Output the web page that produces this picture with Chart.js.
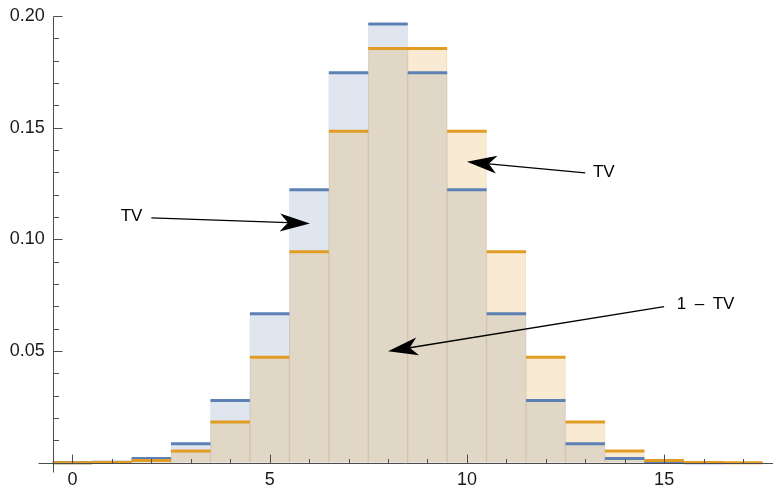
<!DOCTYPE html>
<html>
<head>
<meta charset="utf-8">
<script src="https://cdn.jsdelivr.net/npm/chart.js@4/dist/chart.umd.min.js"></script>
<style>
  body { margin: 0; background: #fff; }
</style>
</head>
<body>
<canvas id="myChart" width="775" height="490"></canvas>
<script>
// outcomes k
var ks = [0, 1, 2, 3, 4, 5, 6, 7, 8, 9, 10, 11, 12, 13, 14, 15, 16, 17];
// blue distribution (no value at k = 17)
var blueVals = [0.0000153, 0.000244, 0.00183, 0.00854, 0.0278, 0.0667, 0.1222, 0.1746, 0.1964,
                0.1746, 0.1222, 0.0667, 0.0278, 0.00854, 0.00183, 0.000244, 0.0000153, null];
// orange distribution
var orangeVals = [0.0000076, 0.00013, 0.00104, 0.00519, 0.0182, 0.0472, 0.0944, 0.1484, 0.1855,
                  0.1855, 0.1484, 0.0944, 0.0472, 0.0182, 0.00519, 0.00104, 0.00013, 0.0000076];
var xTicks = [0, 5, 10, 15];
var yTicks = [0.05, 0.10, 0.15, 0.20];

var FONT = '"Liberation Sans", Arial, sans-serif';
var AXIS = '#4d4d4d';

function barData(vals) {
    var out = [];
    ks.forEach(function (k, i) { if (vals[i] != null) out.push({x: k, y: vals[i]}); });
    return out;
}
// horizontal step for each outcome, broken between outcomes
function stepData(vals) {
    var out = [];
    ks.forEach(function (k, i) {
        if (vals[i] == null) return;
        out.push({x: k - 0.5, y: vals[i]}, {x: k + 0.5, y: vals[i]}, {x: k + 0.5, y: null});
    });
    return out;
}

// arrows, in data units
var notes = [
    {text: 'TV', at: [1.5, 0.1101], from: [2.0, 0.1096], to: [6.02, 0.1071]},
    {text: 'TV', at: [13.47, 0.1302], from: [13.0, 0.1298], to: [10.0, 0.1347]},
    {text: '1\u2002\u2013\u2002TV', at: [16.05, 0.0707], from: [15.0, 0.0699], to: [8.0, 0.0499]}
];

var axesPlugin = {
    id: 'axesPlugin',
    afterDatasetsDraw: function (chart) {
        var ctx = chart.ctx, xs = chart.scales.x, ys = chart.scales.y;
        var x0 = Math.round(xs.getPixelForValue(-0.5)) + 0.5;
        var y0 = Math.round(ys.getPixelForValue(0)) + 0.5;
        ctx.save();
        ctx.strokeStyle = AXIS;
        ctx.lineWidth = 1;
        ctx.beginPath();
        ctx.moveTo(x0 - 15, y0); ctx.lineTo(xs.right, y0);
        ctx.moveTo(x0, Math.round(ys.getPixelForValue(0.2)) + 0.5); ctx.lineTo(x0, y0 + 9);
        ks.forEach(function (k) {
            var px = Math.round(xs.getPixelForValue(k)) + 0.5;
            ctx.moveTo(px, y0); ctx.lineTo(px, y0 - (k % 5 === 0 ? 9 : 4.5));
        });
        for (var i = 1; i <= 20; i++) {
            var py = Math.round(ys.getPixelForValue(i * 0.01)) + 0.5;
            ctx.moveTo(x0, py); ctx.lineTo(x0 + (i % 5 === 0 ? 9 : 5.5), py);
        }
        ctx.stroke();
        ctx.restore();
    },
    afterDraw: function (chart) {
        var ctx = chart.ctx, xs = chart.scales.x, ys = chart.scales.y;
        ctx.save();
        notes.forEach(function (n) {
            var ax = xs.getPixelForValue(n.from[0]), ay = ys.getPixelForValue(n.from[1]);
            var bx = xs.getPixelForValue(n.to[0]), by = ys.getPixelForValue(n.to[1]);
            var ang = Math.atan2(by - ay, bx - ax);
            var L = 30, W = 9, N = 22;
            var c = Math.cos(ang), s = Math.sin(ang);
            ctx.strokeStyle = '#000';
            ctx.lineWidth = 1.3;
            ctx.beginPath();
            ctx.moveTo(ax, ay);
            ctx.lineTo(bx - c * N, by - s * N);
            ctx.stroke();
            // notched arrowhead
            ctx.fillStyle = '#000';
            ctx.beginPath();
            ctx.moveTo(bx, by);
            ctx.lineTo(bx - c * L - s * W, by - s * L + c * W);
            ctx.lineTo(bx - c * N, by - s * N);
            ctx.lineTo(bx - c * L + s * W, by - s * L - c * W);
            ctx.closePath();
            ctx.fill();
            ctx.font = '17px ' + FONT;
            ctx.textAlign = 'center';
            ctx.textBaseline = 'middle';
            ctx.fillText(n.text, xs.getPixelForValue(n.at[0]), ys.getPixelForValue(n.at[1]));
        });
        ctx.restore();
    }
};

var ctx = document.getElementById('myChart').getContext('2d');
var chart = new Chart(ctx, {
    type: 'bar',
    data: {
        datasets: [
            {
                type: 'line',
                data: stepData(orangeVals),
                borderColor: 'rgb(225, 156, 36)',
                borderWidth: 3,
                borderCapStyle: 'butt',
                pointRadius: 0,
                fill: false,
                spanGaps: false,
                clip: false,
                order: 0
            },
            {
                type: 'line',
                data: stepData(blueVals),
                borderColor: 'rgb(94, 129, 181)',
                borderWidth: 3,
                borderCapStyle: 'butt',
                pointRadius: 0,
                fill: false,
                spanGaps: false,
                clip: false,
                order: 1
            },
            {
                data: barData(orangeVals),
                backgroundColor: 'rgba(225, 156, 36, 0.2)',
                borderColor: 'rgba(200, 140, 60, 0.15)',
                borderWidth: {left: 0.5, right: 0.5, top: 0, bottom: 0},
                grouped: false,
                barPercentage: 1,
                categoryPercentage: 1,
                order: 2
            },
            {
                data: barData(blueVals),
                backgroundColor: 'rgba(94, 129, 181, 0.2)',
                borderWidth: 0,
                grouped: false,
                barPercentage: 1,
                categoryPercentage: 1,
                order: 3
            }
        ]
    },
    options: {
        responsive: false,
        animation: false,
        events: [],
        layout: {padding: {left: 0, right: 2, top: 16, bottom: 0}},
        plugins: {legend: {display: false}, tooltip: {enabled: false}},
        scales: {
            x: {
                type: 'linear',
                offset: false,
                min: -0.5,
                max: 17.76,
                grid: {display: false, drawTicks: false},
                border: {display: false},
                afterBuildTicks: function (s) { s.ticks = xTicks.map(function (v) { return {value: v}; }); },
                afterFit: function (s) { s.height = 27.3; s.paddingLeft = 0; s.paddingRight = 0; },
                ticks: {
                    padding: 7,
                    maxRotation: 0,
                    autoSkip: false,
                    color: '#1a1a1a',
                    font: {family: FONT, size: 18},
                    callback: function (v) { return String(v); }
                }
            },
            y: {
                min: 0,
                max: 0.2,
                grid: {display: false, drawTicks: false},
                border: {display: false},
                afterBuildTicks: function (s) { s.ticks = yTicks.map(function (v) { return {value: v}; }); },
                afterFit: function (s) { s.width = 52.7; s.paddingTop = 0; s.paddingBottom = 0; },
                ticks: {
                    padding: 8,
                    color: '#1a1a1a',
                    font: {family: FONT, size: 18},
                    callback: function (v) { return v.toFixed(2); }
                }
            }
        }
    },
    plugins: [axesPlugin]
});
</script>
</body>
</html>
